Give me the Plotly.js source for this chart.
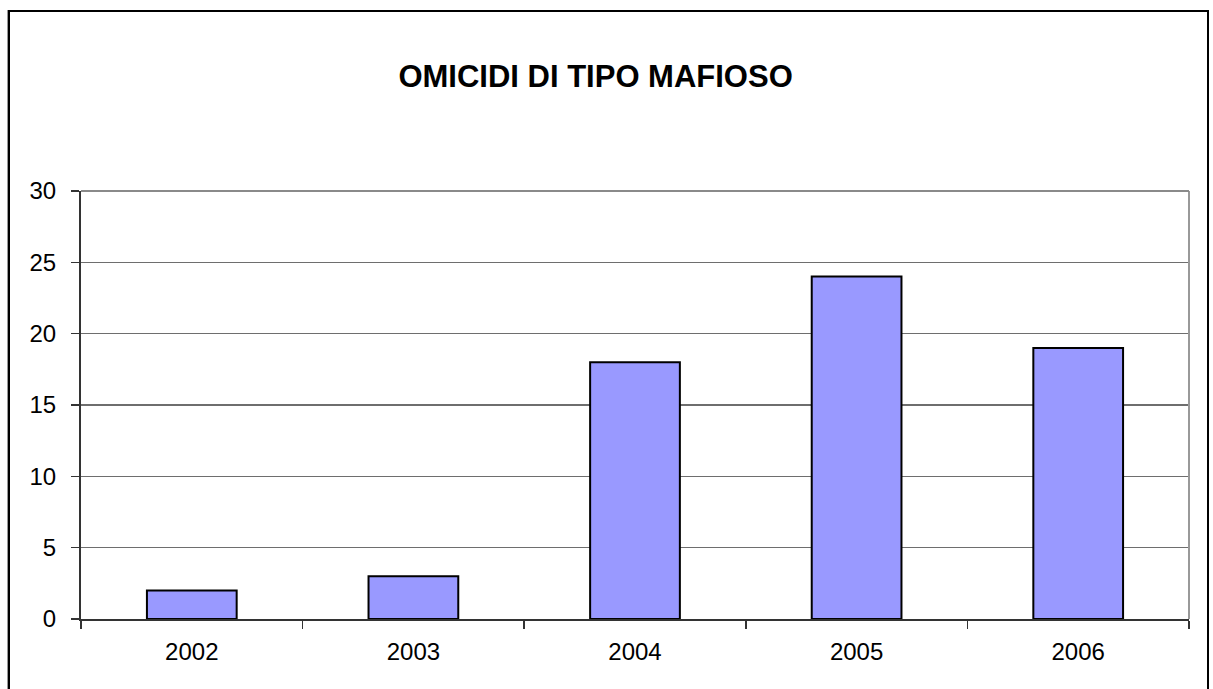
<!DOCTYPE html>
<html>
<head>
<meta charset="utf-8">
<script src="https://cdn.plot.ly/plotly-3.0.1.min.js"></script>
<style>
html,body{margin:0;padding:0;background:#fff;}
#wrap{position:relative;width:1213px;height:689px;overflow:hidden;}
#chart{width:1213px;height:689px;}
#frame{position:absolute;left:8px;top:10px;width:1197px;height:720px;border:2px solid #000;pointer-events:none;box-shadow:-1px 0 0 #999;}
</style>
</head>
<body>
<div id="wrap">
<div id="chart"></div>
<div id="frame"></div>
</div>
<script>
const years = ['2002', '2003', '2004', '2005', '2006'];
const omicidi = [2, 3, 18, 24, 19];
const yTicks = [0, 5, 10, 15, 20, 25, 30];
const chartTitle = 'OMICIDI DI TIPO MAFIOSO';

const font = 'Liberation Sans, Arial, sans-serif';

Plotly.newPlot('chart', [{
  type: 'bar',
  x: years,
  y: omicidi,
  marker: {color: '#9999FF', line: {color: '#000000', width: 2}},
  hoverinfo: 'x+y'
}], {
  width: 1213,
  height: 689,
  margin: {l: 81, r: 24, t: 191, b: 70},
  paper_bgcolor: '#ffffff',
  plot_bgcolor: '#ffffff',
  bargap: 0.595,
  showlegend: false,
  title: {
    text: '<b>' + chartTitle + '</b>',
    font: {family: font, size: 31, color: '#000'},
    xref: 'container', x: 0.491, xanchor: 'center',
    yref: 'container', y: 1 - 76/689, yanchor: 'middle'
  },
  xaxis: {
    type: 'category',
    tickson: 'boundaries',
    ticks: 'outside', ticklen: 8, tickwidth: 1.5, tickcolor: '#333',
    showline: true, linecolor: '#333', linewidth: 2,
    showgrid: false,
    tickfont: {family: font, size: 24, color: '#000'},
    ticklabelstandoff: 10,
    fixedrange: true
  },
  yaxis: {
    range: [0, 30],
    tickvals: yTicks,
    ticktext: yTicks.map(String),
    ticks: 'outside', ticklen: 8, tickwidth: 1.5, tickcolor: '#333',
    showline: true, linecolor: '#333', linewidth: 2,
    showgrid: true, gridcolor: '#6e6e6e', gridwidth: 1.3,
    zeroline: false,
    tickfont: {family: font, size: 24, color: '#000'},
    ticklabelstandoff: 10,
    fixedrange: true
  },
  shapes: [{
    type: 'line', xref: 'paper', yref: 'paper',
    x0: 1, x1: 1, y0: 0, y1: 1,
    line: {color: '#999999', width: 2}
  }, {
    type: 'line', xref: 'paper', yref: 'paper',
    x0: 0, x1: 1, y0: 1, y1: 1,
    line: {color: '#8a8a8a', width: 2}
  }]
}, {displayModeBar: false, staticPlot: true});
</script>
</body>
</html>
